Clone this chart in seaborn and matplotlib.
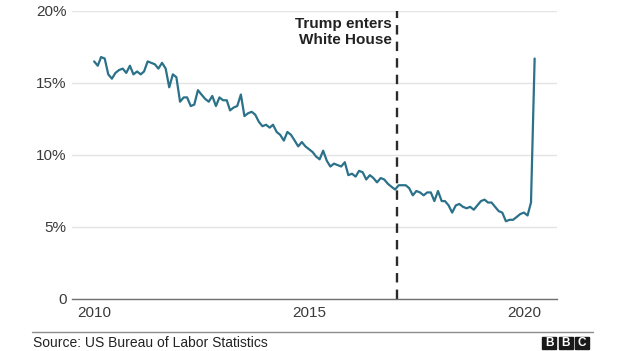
import pandas as pd
import matplotlib
matplotlib.use('Agg')
import matplotlib.pyplot as plt
import seaborn as sns
from matplotlib.lines import Line2D
from matplotlib.patches import Rectangle

# Black unemployment rate (%), monthly Jan 2010 - Apr 2020
rate = [16.5, 16.2, 16.8, 16.7, 15.6, 15.3, 15.7, 15.9, 16.0, 15.7, 16.2, 15.6,
        15.8, 15.6, 15.8, 16.5, 16.4, 16.3, 16.0, 16.4, 16.0, 14.7, 15.6, 15.4,
        13.7, 14.0, 14.0, 13.4, 13.5, 14.5, 14.2, 13.9, 13.7, 14.1, 13.4, 14.0,
        13.8, 13.8, 13.1, 13.3, 13.4, 14.2, 12.7, 12.9, 13.0, 12.8, 12.3, 12.0,
        12.1, 11.9, 12.1, 11.6, 11.4, 11.0, 11.6, 11.4, 11.0, 10.6, 10.9, 10.6,
        10.4, 10.2, 9.9, 9.7, 10.3, 9.6, 9.2, 9.4, 9.3, 9.2, 9.5, 8.6,
        8.7, 8.5, 8.9, 8.8, 8.3, 8.6, 8.4, 8.1, 8.4, 8.3, 8.0, 7.8,
        7.6, 7.9, 7.9, 7.9, 7.7, 7.2, 7.5, 7.4, 7.2, 7.4, 7.4, 6.8,
        7.5, 6.8, 6.8, 6.5, 6.0, 6.5, 6.6, 6.4, 6.3, 6.4, 6.2, 6.5,
        6.8, 6.9, 6.7, 6.7, 6.4, 6.1, 6.0, 5.4, 5.5, 5.5, 5.7, 5.9,
        6.0, 5.8, 6.7, 16.7]
months = pd.date_range('2010-01-01', periods=len(rate), freq='MS')

y_ticks = [0, 5, 10, 15, 20]
y_labels = ['0', '5%', '10%', '15%', '20%']
x_ticks = ['2010', '2015', '2020']
trump_date = '2017-01-20'
annotation = 'Trump enters\nWhite House'
source = 'Source: US Bureau of Labor Statistics'

sns.set_style('white')
plt.rcParams['font.family'] = ['Liberation Sans', 'DejaVu Sans']

df = pd.DataFrame({'month': months, 'rate': rate})

W, H = 624, 351
fig = plt.figure(figsize=(W / 100, H / 100), dpi=100)
ax = fig.add_axes([72 / W, 52 / H, 485 / W, 288 / H])

sns.lineplot(data=df, x='month', y='rate', ax=ax, color='#2a7189', linewidth=1.6)

ax.set_ylim(0, 20)
ax.set_xlim(pd.Timestamp('2009-06-27'), pd.Timestamp('2020-10-08'))
ax.set_yticks(y_ticks)
ax.set_yticklabels(y_labels)
ax.set_xticks([pd.Timestamp(f'{y}-01-01') for y in x_ticks])
ax.set_xticklabels(x_ticks)
ax.set_xlabel('')
ax.set_ylabel('')

ax.yaxis.grid(True, color='#e4e4e4', linewidth=1)
ax.set_axisbelow(True)
for s in ['top', 'left', 'right']:
    ax.spines[s].set_visible(False)
ax.spines['bottom'].set_color('#707070')
ax.spines['bottom'].set_linewidth(1)
ax.tick_params(axis='both', length=0, labelsize=11, colors='#3a3a3a')
ax.tick_params(axis='y', pad=4)
ax.tick_params(axis='x', pad=5)

ax.axvline(pd.Timestamp(trump_date), color='#2b2b2b', linewidth=1.7,
           linestyle=(0, (4, 3)), clip_on=False)
ax.annotate(annotation, xy=(pd.Timestamp(trump_date), 20), xytext=(-4, -4),
            textcoords='offset points', ha='right', va='top', fontsize=11,
            fontweight='bold', color='#222222', linespacing=1.2)

# footer
fig.add_artist(Line2D([32 / W, 593 / W], [1 - 332 / H] * 2, color='#8c8c8c', linewidth=1))
fig.text(33 / W, 1 - 343 / H, source, fontsize=10, va='center', color='#222222')
for i, letter in enumerate('BBC'):
    x0 = 542 + i * 16.5
    fig.add_artist(Rectangle((x0 / W, 1 - 349 / H), 14 / W, 12.5 / H,
                             transform=fig.transFigure, color='#1a1a1a'))
    fig.text((x0 + 7) / W, 1 - 343 / H, letter, fontsize=8.5, fontweight='bold',
             color='white', ha='center', va='center')

fig.savefig('out.png', dpi=100, facecolor='white')
